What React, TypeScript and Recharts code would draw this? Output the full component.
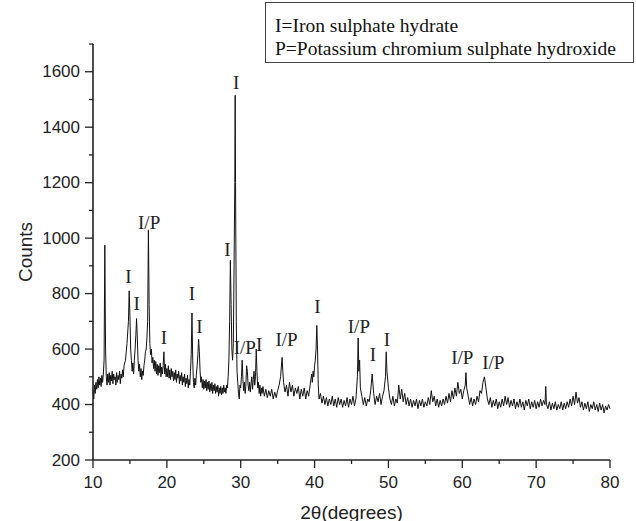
import { LineChart, Line, XAxis, YAxis, ReferenceDot } from 'recharts'

// 2-theta (deg), counts
const seg10to20: [number, number][] = [
  [10.0, 450], [10.1, 420], [10.2, 470], [10.3, 440], [10.4, 480], [10.5, 455], [10.6, 490], [10.7, 460],
  [10.8, 500], [10.9, 470], [11.0, 495], [11.1, 465], [11.2, 505], [11.3, 480], [11.4, 510], [11.5, 560],
  [11.6, 975], [11.7, 600], [11.8, 500], [11.9, 470], [12.0, 510], [12.1, 480], [12.2, 515], [12.3, 470],
  [12.4, 505], [12.5, 485], [12.6, 520], [12.7, 475], [12.8, 510], [12.9, 490], [13.0, 500], [13.1, 470],
  [13.2, 515], [13.3, 480], [13.4, 505], [13.5, 490], [13.6, 520], [13.7, 475], [13.8, 510], [13.9, 495],
  [14.0, 525], [14.1, 500], [14.2, 540], [14.4, 560], [14.6, 620], [14.8, 700], [14.9, 810], [15.0, 720],
  [15.1, 600], [15.2, 560], [15.3, 520], [15.4, 550], [15.5, 510], [15.6, 560], [15.7, 600], [15.8, 650],
  [15.9, 710], [16.0, 640], [16.1, 560], [16.2, 520], [16.3, 545], [16.4, 500], [16.5, 530], [16.6, 490],
  [16.7, 520], [16.8, 505], [16.9, 540], [17.0, 560], [17.1, 590], [17.2, 600], [17.3, 640], [17.4, 700],
  [17.5, 1030], [17.6, 760], [17.7, 620], [17.8, 580], [17.9, 600], [18.0, 550], [18.1, 570], [18.2, 530],
  [18.3, 560], [18.4, 520], [18.5, 555], [18.6, 510], [18.7, 545], [18.8, 505], [18.9, 540], [19.0, 515],
  [19.1, 550], [19.2, 500], [19.3, 535], [19.4, 510], [19.5, 540], [19.6, 590], [19.7, 510], [19.8, 545],
  [19.9, 500],
]

const seg20to30: [number, number][] = [
  [20.0, 530], [20.1, 500], [20.2, 540], [20.3, 495], [20.4, 525], [20.5, 490], [20.6, 530], [20.7, 500],
  [20.8, 520], [20.9, 485], [21.0, 515], [21.1, 490], [21.2, 525], [21.3, 480], [21.4, 510], [21.5, 495],
  [21.6, 520], [21.7, 475], [21.8, 505], [21.9, 485], [22.0, 515], [22.1, 470], [22.2, 500], [22.3, 480],
  [22.4, 510], [22.5, 465], [22.6, 495], [22.7, 475], [22.8, 505], [22.9, 460], [23.0, 490], [23.1, 470],
  [23.2, 520], [23.3, 580], [23.4, 730], [23.5, 560], [23.6, 480], [23.7, 460], [23.8, 495], [23.9, 470],
  [24.0, 510], [24.1, 540], [24.2, 580], [24.3, 635], [24.4, 590], [24.5, 520], [24.6, 480], [24.7, 500],
  [24.8, 460], [24.9, 490], [25.0, 455], [25.1, 485], [25.2, 460], [25.3, 490], [25.4, 450], [25.5, 480],
  [25.6, 455], [25.7, 485], [25.8, 445], [25.9, 475], [26.0, 450], [26.1, 480], [26.2, 440], [26.3, 470],
  [26.4, 450], [26.5, 475], [26.6, 440], [26.7, 465], [26.8, 445], [26.9, 470], [27.0, 430], [27.1, 460],
  [27.2, 440], [27.3, 465], [27.4, 435], [27.5, 460], [27.6, 440], [27.7, 470], [27.8, 445], [27.9, 460],
  [28.0, 440], [28.1, 470], [28.2, 460], [28.3, 500], [28.4, 560], [28.5, 700], [28.6, 920], [28.7, 760],
  [28.8, 600], [28.9, 560], [29.0, 620], [29.1, 900], [29.2, 1200], [29.25, 1515], [29.3, 1200], [29.4, 700],
  [29.5, 520], [29.6, 480], [29.7, 440], [29.8, 420], [29.9, 470],
]

const seg30to40: [number, number][] = [
  [30.0, 460], [30.1, 500], [30.2, 560], [30.3, 490], [30.4, 450], [30.5, 480], [30.6, 440], [30.7, 470],
  [30.8, 540], [30.9, 520], [31.0, 470], [31.1, 450], [31.2, 480], [31.3, 445], [31.4, 475], [31.5, 500],
  [31.6, 455], [31.7, 490], [31.8, 520], [31.9, 470], [32.0, 500], [32.1, 600], [32.2, 520], [32.3, 460],
  [32.4, 480], [32.5, 440], [32.6, 470], [32.7, 430], [32.8, 460], [32.9, 440], [33.0, 465], [33.2, 430],
  [33.4, 455], [33.6, 425], [33.8, 450], [34.0, 430], [34.2, 455], [34.4, 420], [34.6, 445], [34.8, 425],
  [35.0, 450], [35.2, 470], [35.4, 500], [35.6, 570], [35.7, 520], [35.8, 480], [36.0, 445], [36.2, 470],
  [36.4, 430], [36.6, 480], [36.8, 445], [37.0, 470], [37.2, 430], [37.4, 460], [37.6, 440], [37.8, 465],
  [38.0, 420], [38.2, 455], [38.4, 430], [38.6, 460], [38.8, 420], [39.0, 450], [39.2, 430], [39.4, 470],
  [39.6, 510], [39.7, 480], [39.8, 520], [39.9, 500],
]

const seg40to50: [number, number][] = [
  [40.0, 540], [40.1, 560], [40.2, 600], [40.3, 685], [40.4, 600], [40.5, 470], [40.6, 420], [40.8, 440],
  [41.0, 405], [41.2, 430], [41.4, 400], [41.6, 425], [41.8, 395], [42.0, 420], [42.2, 400], [42.4, 430],
  [42.6, 395], [42.8, 420], [43.0, 390], [43.2, 425], [43.4, 400], [43.6, 420], [43.8, 390], [44.0, 415],
  [44.2, 395], [44.4, 425], [44.6, 390], [44.8, 420], [45.0, 400], [45.2, 430], [45.4, 395], [45.6, 420],
  [45.8, 500], [45.9, 640], [46.0, 520], [46.1, 560], [46.2, 460], [46.4, 430], [46.6, 400], [46.8, 425],
  [47.0, 395], [47.2, 420], [47.4, 410], [47.6, 450], [47.8, 510], [48.0, 440], [48.2, 400], [48.4, 430],
  [48.6, 410], [48.8, 440], [49.0, 400], [49.2, 430], [49.4, 450], [49.6, 500], [49.7, 590], [49.8, 520],
]

const seg50to60: [number, number][] = [
  [50.0, 460], [50.2, 420], [50.4, 400], [50.6, 430], [50.8, 395], [51.0, 420], [51.2, 405], [51.4, 470],
  [51.6, 420], [51.8, 455], [52.0, 410], [52.2, 440], [52.4, 400], [52.6, 425], [52.8, 395], [53.0, 420],
  [53.2, 390], [53.4, 415], [53.6, 395], [53.8, 420], [54.0, 385], [54.2, 415], [54.4, 395], [54.6, 420],
  [54.8, 390], [55.0, 410], [55.2, 395], [55.4, 425], [55.6, 400], [55.8, 450], [56.0, 410], [56.2, 430],
  [56.4, 395], [56.6, 420], [56.8, 390], [57.0, 415], [57.2, 395], [57.4, 420], [57.6, 400], [57.8, 430],
  [58.0, 405], [58.2, 440], [58.4, 410], [58.6, 450], [58.8, 420], [59.0, 460], [59.2, 430], [59.4, 480],
  [59.6, 440], [59.8, 455],
]

const seg60to70: [number, number][] = [
  [60.0, 420], [60.2, 450], [60.4, 470], [60.5, 515], [60.6, 460], [60.8, 430], [61.0, 400], [61.2, 425],
  [61.4, 395], [61.6, 420], [61.8, 400], [62.0, 430], [62.2, 410], [62.4, 450], [62.6, 440], [62.8, 480],
  [63.0, 500], [63.2, 460], [63.4, 420], [63.6, 400], [63.8, 425], [64.0, 390], [64.2, 415], [64.4, 395],
  [64.6, 420], [64.8, 385], [65.0, 410], [65.2, 390], [65.4, 420], [65.6, 395], [65.8, 430], [66.0, 400],
  [66.2, 425], [66.4, 390], [66.6, 415], [66.8, 395], [67.0, 420], [67.2, 385], [67.4, 410], [67.6, 390],
  [67.8, 420], [68.0, 390], [68.2, 410], [68.4, 380], [68.6, 415], [68.8, 395], [69.0, 420], [69.2, 385],
  [69.4, 410], [69.6, 390], [69.8, 415],
]

const seg70to80: [number, number][] = [
  [70.0, 385], [70.2, 410], [70.4, 390], [70.6, 420], [70.8, 395], [71.0, 415], [71.2, 400], [71.3, 465],
  [71.4, 400], [71.6, 385], [71.8, 410], [72.0, 380], [72.2, 405], [72.4, 385], [72.6, 410], [72.8, 380],
  [73.0, 400], [73.2, 385], [73.4, 410], [73.6, 380], [73.8, 405], [74.0, 385], [74.2, 410], [74.4, 390],
  [74.6, 420], [74.8, 395], [75.0, 430], [75.2, 400], [75.4, 445], [75.6, 405], [75.8, 425], [76.0, 390],
  [76.2, 410], [76.4, 380], [76.6, 405], [76.8, 385], [77.0, 410], [77.2, 375], [77.4, 400], [77.6, 385],
  [77.8, 410], [78.0, 380], [78.2, 400], [78.4, 375], [78.6, 405], [78.8, 380], [79.0, 400], [79.2, 370],
  [79.4, 395], [79.6, 380], [79.8, 400], [80.0, 385],
]

// peak tags (text centre in data coords)
const tagTheta = [14.8, 15.9, 17.6, 19.6, 23.4, 24.4, 28.2, 29.4, 30.55, 32.5, 36.2, 40.4, 46.0, 47.9, 49.8, 60.0, 64.2]
const tagCounts = [860, 765, 1055, 640, 800, 680, 960, 1560, 605, 615, 636, 752, 680, 580, 636, 571, 553]
const tagText = ['I', 'I', 'I/P', 'I', 'I', 'I', 'I', 'I', 'I/P', 'I', 'I/P', 'I', 'I/P', 'I', 'I', 'I/P', 'I/P']

const xTicks = [10, 15, 20, 25, 30, 35, 40, 45, 50, 55, 60, 65, 70, 75, 80]
const yTicks = [200, 300, 400, 500, 600, 700, 800, 900, 1000, 1100, 1200, 1300, 1400, 1500, 1600, 1700]

const legendLines = ['I=Iron sulphate hydrate', 'P=Potassium chromium sulphate hydroxide']

const data = [...seg10to20, ...seg20to30, ...seg30to40, ...seg40to50, ...seg50to60, ...seg60to70, ...seg70to80]
  .map(([x, y]) => ({ x, y }))

const sans = '"Liberation Sans", Arial, sans-serif'
const serif = '"Liberation Serif", "Times New Roman", serif'

function XTick(props: any) {
  const { x, y, payload } = props
  const major = payload.value % 10 === 0
  return (
    <g>
      <line x1={x} x2={x} y1={y} y2={y + (major ? 8 : 4)} stroke="#222" strokeWidth={1.3} />
      {major && (
        <text x={x} y={y + 22} textAnchor="middle" dominantBaseline="central" fontFamily={sans} fontSize={17} fill="#222">
          {payload.value}
        </text>
      )}
    </g>
  )
}

function YTick(props: any) {
  const { x, y, payload } = props
  const major = payload.value % 200 === 0
  return (
    <g>
      <line x1={x - (major ? 8 : 4)} x2={x} y1={y} y2={y} stroke="#222" strokeWidth={1.3} />
      {major && (
        <text x={x - 13} y={y} textAnchor="end" dominantBaseline="central" fontFamily={sans} fontSize={17} fill="#222">
          {payload.value}
        </text>
      )}
    </g>
  )
}

export default function App() {
  return (
    <div style={{ position: 'absolute', left: 0, top: 0, width: 636, height: 521, background: '#fff' }}>
      <LineChart width={636} height={521} data={data} margin={{ top: 44, right: 26, left: 0, bottom: 0 }}>
        <XAxis
          type="number"
          dataKey="x"
          domain={[10, 80]}
          ticks={xTicks}
          interval={0}
          tickSize={0}
          tickMargin={0}
          tick={<XTick />}
          height={61}
          axisLine={{ stroke: '#222', strokeWidth: 1.6 }}
          label={{
            content: ({ viewBox }: any) => (
              <text
                x={viewBox.x + viewBox.width / 2}
                y={viewBox.y + 52}
                textAnchor="middle"
                dominantBaseline="central"
                fontFamily={sans}
                fontSize={19}
                fill="#222"
              >
                2θ(degrees)
              </text>
            ),
          }}
        />
        <YAxis
          type="number"
          domain={[200, 1700]}
          ticks={yTicks}
          interval={0}
          tickSize={0}
          tickMargin={0}
          tick={<YTick />}
          width={93}
          axisLine={{ stroke: '#222', strokeWidth: 1.6 }}
          label={{
            content: ({ viewBox }: any) => {
              const cx = viewBox.x + 25
              const cy = viewBox.y + viewBox.height / 2
              return (
                <text
                  x={cx}
                  y={cy}
                  transform={`rotate(-90 ${cx} ${cy})`}
                  textAnchor="middle"
                  dominantBaseline="central"
                  fontFamily={sans}
                  fontSize={19}
                  fill="#222"
                >
                  Counts
                </text>
              )
            },
          }}
        />
        <Line type="linear" dataKey="y" stroke="#111" strokeWidth={1} dot={false} isAnimationActive={false} />
        {tagTheta.map((t, i) => (
          <ReferenceDot
            key={i}
            x={t}
            y={tagCounts[i]}
            r={0}
            shape={(p: any) => (
              <text x={p.cx} y={p.cy} textAnchor="middle" dominantBaseline="central" fontFamily={serif} fontSize={19} fill="#222">
                {tagText[i]}
              </text>
            )}
          />
        ))}
      </LineChart>
      <div
        style={{
          position: 'absolute',
          left: 265,
          top: 2,
          width: 358,
          border: '1px solid #444',
          padding: '11px 0 2px 9px',
          fontFamily: serif,
          fontSize: 19.5,
          lineHeight: '23px',
          color: '#111',
          whiteSpace: 'nowrap',
        }}
      >
        {legendLines.map((l) => (
          <div key={l}>{l}</div>
        ))}
      </div>
    </div>
  )
}
